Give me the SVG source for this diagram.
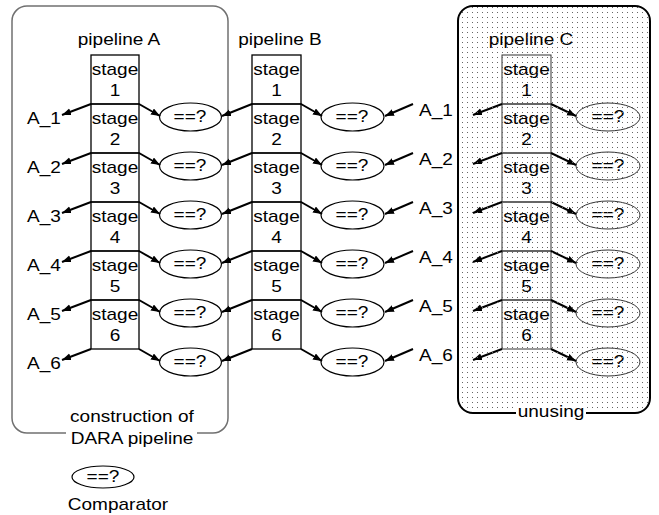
<svg xmlns="http://www.w3.org/2000/svg" width="659" height="515" viewBox="0 0 659 515">
  <defs>
    <marker id="arrow" markerUnits="userSpaceOnUse" markerWidth="10" markerHeight="8" refX="9" refY="3.5" orient="auto">
      <path d="M0,0 L9,3.5 L0,7 z" fill="#000"/>
    </marker>
    <pattern id="dots" patternUnits="userSpaceOnUse" width="5" height="5">
      <rect x="2" y="2" width="1" height="1" fill="#666"/>
    </pattern>
  </defs>
  <style>
    text { font-family: "Liberation Sans", Arial, sans-serif; font-size: 17px; fill: #000; text-anchor: middle;
           transform-box: fill-box; transform-origin: center; transform: scaleX(1.12); }
    .cell { fill: none; stroke: #000; stroke-width: 1.3; }
    .cellC { fill: none; stroke: #333; stroke-width: 1; }
    .cmp { fill: #fff; stroke: #000; stroke-width: 1.2; }
    .cmpC { fill: none; stroke: #333; stroke-width: 1; }
    .wire { fill: none; stroke: #000; stroke-width: 2; marker-end: url(#arrow); }
  </style>
  <rect width="659" height="515" fill="#fff"/>

  <!-- group frames -->
  <g id="frame-dara">
    <rect x="12" y="6" width="216" height="427" rx="15" fill="none" stroke="#707070" stroke-width="1.5"/>
    <text x="132" y="422">construction of</text>
    <rect x="66" y="428" width="131" height="21" fill="#fff"/>
    <text x="132" y="444">DARA pipeline</text>
  </g>
  <g id="frame-unusing">
    <rect x="458" y="6" width="192" height="407" rx="15" fill="#fff" stroke="none"/>
  </g>

  <!-- pipeline A -->
  <g id="pipeline-a">
    <text x="119" y="45">pipeline A</text>
    <g class="cell">
      <rect x="91" y="55" width="48" height="49"/><rect x="91" y="104" width="48" height="49"/>
      <rect x="91" y="153" width="48" height="49"/><rect x="91" y="202" width="48" height="49"/>
      <rect x="91" y="251" width="48" height="49"/><rect x="91" y="300" width="48" height="49"/>
    </g>
    <text x="115" y="75">stage</text><text x="115" y="96">1</text>
    <text x="115" y="124">stage</text><text x="115" y="145">2</text>
    <text x="115" y="173">stage</text><text x="115" y="194">3</text>
    <text x="115" y="222">stage</text><text x="115" y="243">4</text>
    <text x="115" y="271">stage</text><text x="115" y="292">5</text>
    <text x="115" y="320">stage</text><text x="115" y="341">6</text>
  </g>

  <!-- pipeline B -->
  <g id="pipeline-b">
    <text x="280" y="45">pipeline B</text>
    <g class="cell">
      <rect x="252" y="55" width="49" height="49"/><rect x="252" y="104" width="49" height="49"/>
      <rect x="252" y="153" width="49" height="49"/><rect x="252" y="202" width="49" height="49"/>
      <rect x="252" y="251" width="49" height="49"/><rect x="252" y="300" width="49" height="49"/>
    </g>
    <text x="276.5" y="75">stage</text><text x="276.5" y="96">1</text>
    <text x="276.5" y="124">stage</text><text x="276.5" y="145">2</text>
    <text x="276.5" y="173">stage</text><text x="276.5" y="194">3</text>
    <text x="276.5" y="222">stage</text><text x="276.5" y="243">4</text>
    <text x="276.5" y="271">stage</text><text x="276.5" y="292">5</text>
    <text x="276.5" y="320">stage</text><text x="276.5" y="341">6</text>
  </g>

  <!-- pipeline C -->
  <g id="pipeline-c">
    <text x="531" y="45">pipeline C</text>
    <g class="cellC">
      <rect x="502" y="55" width="49" height="49"/><rect x="502" y="104" width="49" height="49"/>
      <rect x="502" y="153" width="49" height="49"/><rect x="502" y="202" width="49" height="49"/>
      <rect x="502" y="251" width="49" height="49"/><rect x="502" y="300" width="49" height="49"/>
    </g>
    <text x="526.5" y="75">stage</text><text x="526.5" y="96">1</text>
    <text x="526.5" y="124">stage</text><text x="526.5" y="145">2</text>
    <text x="526.5" y="173">stage</text><text x="526.5" y="194">3</text>
    <text x="526.5" y="222">stage</text><text x="526.5" y="243">4</text>
    <text x="526.5" y="271">stage</text><text x="526.5" y="292">5</text>
    <text x="526.5" y="320">stage</text><text x="526.5" y="341">6</text>
  </g>

  <!-- comparators between A and B -->
  <g id="cmp-ab">
    <ellipse class="cmp" cx="190.5" cy="117" rx="31" ry="14"/><text x="190" y="122">==?</text>
    <ellipse class="cmp" cx="190.5" cy="166" rx="31" ry="14"/><text x="190" y="171">==?</text>
    <ellipse class="cmp" cx="190.5" cy="215" rx="31" ry="14"/><text x="190" y="220">==?</text>
    <ellipse class="cmp" cx="190.5" cy="264" rx="31" ry="14"/><text x="190" y="269">==?</text>
    <ellipse class="cmp" cx="190.5" cy="313" rx="31" ry="14"/><text x="190" y="318">==?</text>
    <ellipse class="cmp" cx="190.5" cy="362" rx="31" ry="14"/><text x="190" y="367">==?</text>
  </g>

  <!-- comparators between B and the A outputs -->
  <g id="cmp-b">
    <ellipse class="cmp" cx="352.5" cy="117" rx="31.5" ry="14"/><text x="352" y="122">==?</text>
    <ellipse class="cmp" cx="352.5" cy="166" rx="31.5" ry="14"/><text x="352" y="171">==?</text>
    <ellipse class="cmp" cx="352.5" cy="215" rx="31.5" ry="14"/><text x="352" y="220">==?</text>
    <ellipse class="cmp" cx="352.5" cy="264" rx="31.5" ry="14"/><text x="352" y="269">==?</text>
    <ellipse class="cmp" cx="352.5" cy="313" rx="31.5" ry="14"/><text x="352" y="318">==?</text>
    <ellipse class="cmp" cx="352.5" cy="362" rx="31.5" ry="14"/><text x="352" y="367">==?</text>
  </g>

  <!-- comparators of pipeline C -->
  <g id="cmp-c">
    <ellipse class="cmpC" cx="608" cy="117" rx="32" ry="14"/><text x="608" y="122">==?</text>
    <ellipse class="cmpC" cx="608" cy="166" rx="32" ry="14"/><text x="608" y="171">==?</text>
    <ellipse class="cmpC" cx="608" cy="215" rx="32" ry="14"/><text x="608" y="220">==?</text>
    <ellipse class="cmpC" cx="608" cy="264" rx="32" ry="14"/><text x="608" y="269">==?</text>
    <ellipse class="cmpC" cx="608" cy="313" rx="32" ry="14"/><text x="608" y="318">==?</text>
    <ellipse class="cmpC" cx="608" cy="362" rx="32" ry="14"/><text x="608" y="367">==?</text>
  </g>

  <!-- outputs of pipeline A -->
  <g id="outputs-a">
    <text x="44" y="124">A_1</text><text x="44" y="173">A_2</text><text x="44" y="222">A_3</text>
    <text x="44" y="271">A_4</text><text x="44" y="320">A_5</text><text x="44" y="369">A_6</text>
  </g>
  <g id="inputs-a">
    <text x="436" y="116">A_1</text><text x="436" y="165">A_2</text><text x="436" y="214">A_3</text>
    <text x="436" y="263">A_4</text><text x="436" y="312">A_5</text><text x="436" y="361">A_6</text>
  </g>

  <!-- connectors -->
  <g id="connectors">
    <path class="wire" d="M91,104 L62,115"/><path class="wire" d="M139,104 L160,116"/>
    <path class="wire" d="M252,104 L222,116"/><path class="wire" d="M301,104 L322,116"/>
    <path class="wire" d="M413,104 L385,116"/><path class="wire" d="M502,104 L473,115"/>
    <path class="wire" d="M551,104 L576,116"/>

    <path class="wire" d="M91,153 L62,164"/><path class="wire" d="M139,153 L160,165"/>
    <path class="wire" d="M252,153 L222,165"/><path class="wire" d="M301,153 L322,165"/>
    <path class="wire" d="M413,153 L385,165"/><path class="wire" d="M502,153 L473,164"/>
    <path class="wire" d="M551,153 L576,165"/>

    <path class="wire" d="M91,202 L62,213"/><path class="wire" d="M139,202 L160,214"/>
    <path class="wire" d="M252,202 L222,214"/><path class="wire" d="M301,202 L322,214"/>
    <path class="wire" d="M413,202 L385,214"/><path class="wire" d="M502,202 L473,213"/>
    <path class="wire" d="M551,202 L576,214"/>

    <path class="wire" d="M91,251 L62,262"/><path class="wire" d="M139,251 L160,263"/>
    <path class="wire" d="M252,251 L222,263"/><path class="wire" d="M301,251 L322,263"/>
    <path class="wire" d="M413,251 L385,263"/><path class="wire" d="M502,251 L473,262"/>
    <path class="wire" d="M551,251 L576,263"/>

    <path class="wire" d="M91,300 L62,311"/><path class="wire" d="M139,300 L160,312"/>
    <path class="wire" d="M252,300 L222,312"/><path class="wire" d="M301,300 L322,312"/>
    <path class="wire" d="M413,300 L385,312"/><path class="wire" d="M502,300 L473,311"/>
    <path class="wire" d="M551,300 L576,312"/>

    <path class="wire" d="M91,349 L62,360"/><path class="wire" d="M139,349 L160,361"/>
    <path class="wire" d="M252,349 L222,361"/><path class="wire" d="M301,349 L322,361"/>
    <path class="wire" d="M413,349 L385,361"/><path class="wire" d="M502,349 L473,360"/>
    <path class="wire" d="M551,349 L576,361"/>
  </g>

  <!-- dotted shading and border of the unused pipeline -->
  <g id="frame-unusing-shade">
    <rect x="458" y="6" width="192" height="407" rx="15" fill="url(#dots)" stroke="#000" stroke-width="2"/>
    <rect x="516" y="406" width="70" height="15" fill="#fff"/>
    <text x="551" y="417">unusing</text>
  </g>

  <!-- legend -->
  <g id="legend">
    <ellipse class="cmp" cx="103" cy="477" rx="31" ry="11"/>
    <text x="103" y="482">==?</text>
    <text x="118" y="510">Comparator</text>
  </g>
</svg>
